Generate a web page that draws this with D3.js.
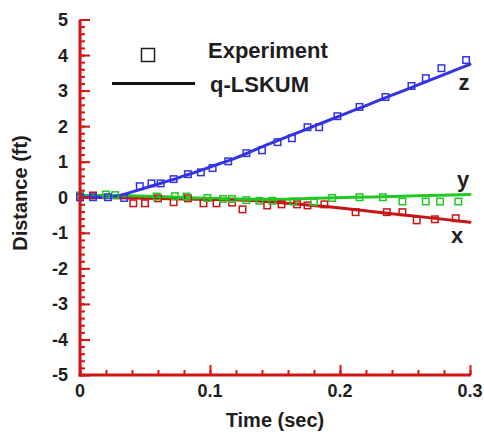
<!DOCTYPE html>
<html>
<head>
<meta charset="utf-8">
<script src="https://cdn.jsdelivr.net/npm/d3@7"></script>
<style>
  html, body { margin: 0; padding: 0; background: #fff; }
  svg { display: block; font-family: Arial, "Liberation Sans", sans-serif; font-weight: bold; }
</style>
</head>
<body>
<svg id="chart" width="484" height="436"></svg>
<script>
// Measured displacement (squares) and q-LSKUM prediction (lines)
const zExpT = [0, 0.01, 0.0215, 0.034, 0.046, 0.055, 0.062, 0.072, 0.083, 0.093, 0.102, 0.114, 0.128, 0.14, 0.152, 0.163, 0.175, 0.184, 0.198, 0.215, 0.235, 0.255, 0.266, 0.278, 0.297];
const zExpV = [0, 0, 0, -0.02, 0.31, 0.39, 0.39, 0.51, 0.65, 0.70, 0.82, 1.01, 1.24, 1.32, 1.55, 1.66, 1.97, 1.97, 2.28, 2.54, 2.82, 3.13, 3.35, 3.63, 3.86];

const yExpT = [0, 0.02, 0.027, 0.059, 0.073, 0.082, 0.098, 0.11, 0.117, 0.128, 0.138, 0.148, 0.164, 0.18, 0.194, 0.215, 0.233, 0.248, 0.266, 0.277, 0.291];
const yExpV = [0.05, 0.08, 0.06, 0.02, 0.03, 0.02, -0.02, -0.05, -0.05, -0.08, -0.1, -0.1, -0.12, -0.14, -0.02, 0.0, 0.0, -0.12, -0.12, -0.12, -0.12];

const xExpT = [0, 0.01, 0.041, 0.05, 0.06, 0.072, 0.083, 0.095, 0.105, 0.117, 0.125, 0.144, 0.155, 0.167, 0.175, 0.188, 0.212, 0.236, 0.248, 0.259, 0.273, 0.289];
const xExpV = [0, 0.05, -0.17, -0.17, -0.03, -0.14, -0.03, -0.17, -0.17, -0.15, -0.34, -0.23, -0.2, -0.2, -0.23, -0.2, -0.42, -0.42, -0.42, -0.65, -0.62, -0.59];

const zSimT = [0, 0.02, 0.03, 0.04, 0.05, 0.06, 0.07, 0.08, 0.09, 0.10, 0.12, 0.14, 0.16, 0.18, 0.20, 0.22, 0.24, 0.26, 0.28, 0.30];
const zSimV = [0, 0.0, 0.05, 0.15, 0.26, 0.37, 0.48, 0.60, 0.72, 0.85, 1.11, 1.42, 1.71, 2.0, 2.29, 2.58, 2.87, 3.16, 3.45, 3.74];

const ySimT = [0, 0.03, 0.06, 0.09, 0.12, 0.15, 0.18, 0.21, 0.24, 0.27, 0.30];
const ySimV = [0.05, 0.05, 0.02, -0.02, -0.05, -0.06, -0.03, 0.0, 0.02, 0.05, 0.08];

const xSimT = [0, 0.05, 0.10, 0.123, 0.15, 0.175, 0.20, 0.236, 0.27, 0.30];
const xSimV = [0, -0.03, -0.06, -0.08, -0.14, -0.22, -0.3, -0.45, -0.58, -0.7];

const xTicks = [0, 0.1, 0.2, 0.3];
const xTickLabels = ["0", "0.1", "0.2", "0.3"];
const yTicks = [5, 4, 3, 2, 1, 0, -1, -2, -3, -4, -5];

const seriesColors = { z: "#3333e6", y: "#22c822", x: "#c81414" };
const axisColor = "#d41414";
const textColor = "#1e1e1e";

const svg = d3.select("#chart");
const x = d3.scaleLinear().domain([0, 0.3]).range([80, 470]);
const y = d3.scaleLinear().domain([-5, 5]).range([375, 19.5]);

const zip = (ts, vs) => ts.map((t, i) => [t, vs[i]]);
const line = d3.line().x(d => x(d[0])).y(d => y(d[1])).curve(d3.curveMonotoneX);

// simulation curves
[["x", xSimT, xSimV], ["y", ySimT, ySimV], ["z", zSimT, zSimV]].forEach(([k, ts, vs]) => {
  svg.append("path")
    .datum(zip(ts, vs))
    .attr("d", line)
    .attr("fill", "none")
    .attr("stroke", seriesColors[k])
    .attr("stroke-width", 3)
    .attr("stroke-linecap", "round");
});

// experimental squares
const sq = 6.5;
[["x", xExpT, xExpV], ["y", yExpT, yExpV], ["z", zExpT, zExpV]].forEach(([k, ts, vs]) => {
  svg.append("g").selectAll("rect")
    .data(zip(ts, vs))
    .join("rect")
    .attr("x", d => x(d[0]) - sq / 2)
    .attr("y", d => y(d[1]) - sq / 2)
    .attr("width", sq)
    .attr("height", sq)
    .attr("fill", "none")
    .attr("stroke", seriesColors[k])
    .attr("stroke-width", 1.5);
});

// axes: red lines with inward ticks
const yAxis = d3.axisRight(y).tickValues(yTicks).tickSize(10).tickFormat("");
const yMinor = d3.axisRight(y).tickValues(d3.range(-5, 5.001, 0.2)).tickSize(5).tickFormat("");
const xAxis = d3.axisTop(x).tickValues(xTicks).tickSize(10).tickFormat("");
const xMinor = d3.axisTop(x).tickValues(d3.range(0, 0.3001, 0.02)).tickSize(5).tickFormat("");

function styleAxis(g) {
  g.select(".domain").remove();
  g.selectAll("line").attr("stroke", axisColor).attr("stroke-width", 2);
}
svg.append("g").attr("transform", "translate(80,0)").call(yMinor).call(styleAxis);
svg.append("g").attr("transform", "translate(80,0)").call(yAxis).call(styleAxis);
svg.append("g").attr("transform", "translate(0,375)").call(xMinor).call(styleAxis);
svg.append("g").attr("transform", "translate(0,375)").call(xAxis).call(styleAxis);

svg.append("line").attr("x1", 80).attr("x2", 80).attr("y1", y(5)).attr("y2", y(-5) + 1.5)
  .attr("stroke", axisColor).attr("stroke-width", 3);
svg.append("line").attr("x1", 78.5).attr("x2", x(0.3) + 1).attr("y1", 375).attr("y2", 375)
  .attr("stroke", axisColor).attr("stroke-width", 3);

// tick labels
svg.append("g").selectAll("text")
  .data(yTicks)
  .join("text")
  .attr("x", 68)
  .attr("y", d => y(d))
  .attr("dy", "0.36em")
  .attr("text-anchor", "end")
  .attr("font-size", 18)
  .attr("fill", textColor)
  .text(d => d);

svg.append("g").selectAll("text")
  .data(xTicks)
  .join("text")
  .attr("x", d => x(d))
  .attr("y", 391)
  .attr("dy", "0.36em")
  .attr("text-anchor", "middle")
  .attr("font-size", 18)
  .attr("fill", textColor)
  .text((d, i) => xTickLabels[i]);

// axis titles
svg.append("text")
  .attr("transform", "translate(20,193) rotate(-90)")
  .attr("text-anchor", "middle")
  .attr("dy", "0.36em")
  .attr("font-size", 20)
  .attr("fill", textColor)
  .text("Distance (ft)");

svg.append("text")
  .attr("x", 275)
  .attr("y", 420)
  .attr("dy", "0.36em")
  .attr("text-anchor", "middle")
  .attr("font-size", 20)
  .attr("fill", textColor)
  .text("Time (sec)");

// legend
svg.append("rect").attr("x", 141.5).attr("y", 48.5).attr("width", 13).attr("height", 13)
  .attr("fill", "none").attr("stroke", textColor).attr("stroke-width", 1.5);
svg.append("text").attr("x", 208).attr("y", 58)
  .attr("font-size", 22).attr("fill", textColor).text("Experiment");
svg.append("line").attr("x1", 112).attr("x2", 195).attr("y1", 83.5).attr("y2", 83.5)
  .attr("stroke", "#111").attr("stroke-width", 3);
svg.append("text").attr("x", 210).attr("y", 92)
  .attr("font-size", 22).attr("fill", textColor).text("q-LSKUM");

// series labels (baseline positions)
const seriesLabels = [["z", 464, 90], ["y", 463, 187], ["x", 457, 243]];
svg.append("g").selectAll("text")
  .data(seriesLabels)
  .join("text")
  .attr("x", d => d[1])
  .attr("y", d => d[2])
  .attr("text-anchor", "middle")
  .attr("font-size", 22)
  .attr("fill", textColor)
  .text(d => d[0]);
</script>
</body>
</html>
